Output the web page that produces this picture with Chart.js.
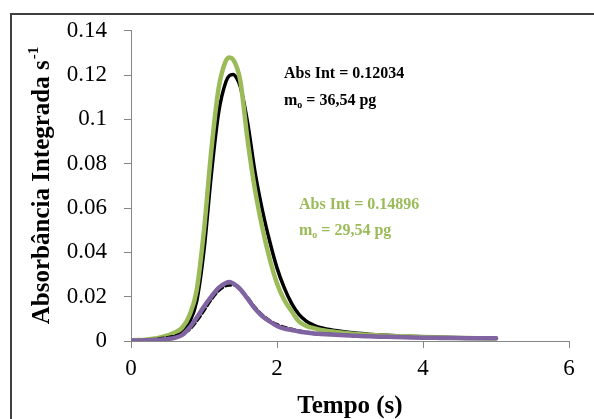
<!DOCTYPE html>
<html>
<head>
<meta charset="utf-8">
<script src="https://cdn.jsdelivr.net/npm/chart.js@4.4.0/dist/chart.umd.min.js"></script>
<style>
  html, body { margin: 0; padding: 0; background: #fff; }
  #wrap { width: 594px; height: 419px; position: relative; }
</style>
</head>
<body>
<div id="wrap"><canvas id="abs"></canvas></div>
<script>
// tempo (s)
var tempo = [0, 0.1, 0.2, 0.3, 0.4, 0.5, 0.6, 0.7, 0.8, 0.9, 1.0, 1.1, 1.2, 1.3, 1.35, 1.4, 1.45, 1.5, 1.6, 1.7,
    1.8, 1.9, 2.0, 2.1, 2.2, 2.3, 2.4, 2.5, 2.6, 2.8, 3.0, 3.25, 3.5, 3.75, 4.0, 4.25, 4.5, 4.75, 5.0];

var verde = [0.0003, 0.0004, 0.0006, 0.001, 0.0016, 0.0025, 0.0038, 0.006, 0.0115, 0.023, 0.05, 0.086, 0.114, 0.1265, 0.128, 0.127, 0.1235, 0.117, 0.09, 0.068,
    0.051, 0.037, 0.026, 0.0185, 0.0135, 0.0088, 0.0068, 0.0058, 0.005, 0.0041, 0.0034, 0.0028, 0.0024, 0.0021, 0.0018, 0.0016, 0.0014, 0.0012, 0.0011];

var preto = [0.0002, 0.0003, 0.0005, 0.0008, 0.0012, 0.0018, 0.0028, 0.0045, 0.0085, 0.018, 0.041, 0.075, 0.103, 0.117, 0.1198, 0.1203, 0.1185, 0.1145, 0.098, 0.076,
    0.059, 0.045, 0.033, 0.024, 0.017, 0.012, 0.009, 0.0072, 0.006, 0.0047, 0.0038, 0.0031, 0.0026, 0.0022, 0.0019, 0.0017, 0.0015, 0.0013, 0.0012];

var roxo = [0.0002, 0.0002, 0.0003, 0.0004, 0.0006, 0.0009, 0.0014, 0.0027, 0.006, 0.0105, 0.0155, 0.02, 0.024, 0.0262, 0.0266, 0.026, 0.0248, 0.0232, 0.019, 0.0145,
    0.0112, 0.0088, 0.0068, 0.0056, 0.005, 0.0043, 0.0038, 0.0034, 0.0032, 0.0028, 0.0025, 0.0021, 0.0019, 0.0017, 0.0015, 0.0014, 0.0013, 0.0012, 0.0012];

var tracejado = [0.0003, 0.0003, 0.0005, 0.0008, 0.0012, 0.0017, 0.0024, 0.0033, 0.005, 0.0088, 0.0135, 0.0185, 0.0225, 0.0248, 0.0251, 0.0252, 0.0246, 0.0233, 0.0196, 0.0153,
    0.0119, 0.0094, 0.0076, 0.0063, 0.0055, 0.0047, 0.0041, 0.0037, 0.0034, 0.003, 0.0026, 0.0023, 0.002, 0.0018, 0.0016, 0.0014, 0.0013, 0.0012, 0.0011];

var yTickLabels = ['0', '0.02', '0.04', '0.06', '0.08', '0.1', '0.12', '0.14'];
var xTickLabels = ['0', '2', '4', '6'];

function pts(ys) {
    return tempo.map(function (t, i) { return { x: t, y: ys[i] }; });
}

var serif = '"Liberation Serif", "Times New Roman", serif';

// frame, annotations and axis titles
var extras = {
    id: 'extras',
    afterDraw: function (chart) {
        var c = chart.ctx;
        var a = chart.chartArea;
        c.save();
        c.strokeStyle = '#404040';
        c.lineWidth = 2;
        c.beginPath();
        c.moveTo(11, 419);
        c.lineTo(11, 14);
        c.lineTo(594, 14);
        c.stroke();

        function sub(txt, sb, rest, x, y, color) {
            c.fillStyle = color;
            c.font = 'bold 16px ' + serif;
            c.textBaseline = 'alphabetic';
            c.textAlign = 'left';
            c.fillText(txt, x, y);
            var w = c.measureText(txt).width;
            c.font = 'bold 10px ' + serif;
            c.fillText(sb, x + w, y + 3);
            var w2 = c.measureText(sb).width;
            c.font = 'bold 16px ' + serif;
            c.fillText(rest, x + w + w2, y);
        }
        c.font = 'bold 16px ' + serif;
        c.fillStyle = '#000';
        c.fillText('Abs Int = 0.12034', 284, 78);
        sub('m', 'o', ' = 36,54 pg', 284, 105, '#000');
        c.fillStyle = '#9BBB59';
        c.font = 'bold 16px ' + serif;
        c.fillText('Abs Int = 0.14896', 299, 209);
        sub('m', 'o', ' = 29,54 pg', 299, 235, '#9BBB59');

        // x title
        c.fillStyle = '#000';
        c.font = 'bold 25px ' + serif;
        c.textAlign = 'center';
        c.fillText('Tempo (s)', (a.left + a.right) / 2, 413);

        // y title with superscript
        c.translate(49, 186);
        c.rotate(-Math.PI / 2);
        var main = 'Absorbância Integrada s';
        c.font = 'bold 25px ' + serif;
        var wm = c.measureText(main).width;
        c.font = 'bold 15px ' + serif;
        var ws = c.measureText('-1').width;
        var x0 = -(wm + ws) / 2;
        c.textAlign = 'left';
        c.font = 'bold 25px ' + serif;
        c.fillText(main, x0, 0);
        c.font = 'bold 15px ' + serif;
        c.fillText('-1', x0 + wm + 1, -11);
        c.restore();
    }
};

var axisGrey = '#868686';

var absChart = new Chart(document.getElementById('abs'), {
    type: 'line',
    data: {
        datasets: [{
            label: 'roxo',
            data: pts(roxo),
            borderColor: '#8064A2',
            borderWidth: 4.5
        }, {
            label: 'tracejado',
            data: pts(tracejado),
            borderColor: '#000000',
            borderWidth: 2.5,
            borderDash: [6, 3]
        }, {
            label: 'verde',
            data: pts(verde),
            borderColor: '#9BBB59',
            borderWidth: 4.5
        }, {
            label: 'preto',
            data: pts(preto),
            borderColor: '#000000',
            borderWidth: 3.5
        }]
    },
    options: {
        responsive: true,
        maintainAspectRatio: false,
        animation: false,
        layout: { padding: { top: 27, right: 25, left: 0, bottom: 0 } },
        elements: {
            point: { radius: 0 },
            line: { cubicInterpolationMode: 'monotone', borderCapStyle: 'round', borderJoinStyle: 'round' }
        },
        plugins: { legend: { display: false }, tooltip: { enabled: false } },
        scales: {
            x: {
                type: 'linear',
                min: 0,
                max: 6,
                ticks: {
                    stepSize: 2,
                    color: '#000',
                    font: { family: serif, size: 23 },
                    padding: 7,
                    maxRotation: 0,
                    callback: function (v, i) { return xTickLabels[i]; }
                },
                grid: { drawOnChartArea: false, drawTicks: true, tickLength: 7, color: axisGrey },
                border: { color: axisGrey },
                afterFit: function (s) { s.height = 419 - 341; }
            },
            y: {
                min: 0,
                max: 0.14,
                ticks: {
                    stepSize: 0.02,
                    color: '#000',
                    font: { family: serif, size: 23 },
                    padding: 17,
                    callback: function (v, i) { return yTickLabels[i]; }
                },
                grid: { drawOnChartArea: false, drawTicks: true, tickLength: 7, color: axisGrey },
                border: { color: axisGrey },
                afterFit: function (s) { s.width = 131; }
            }
        }
    },
    plugins: [extras]
});
</script>
</body>
</html>
